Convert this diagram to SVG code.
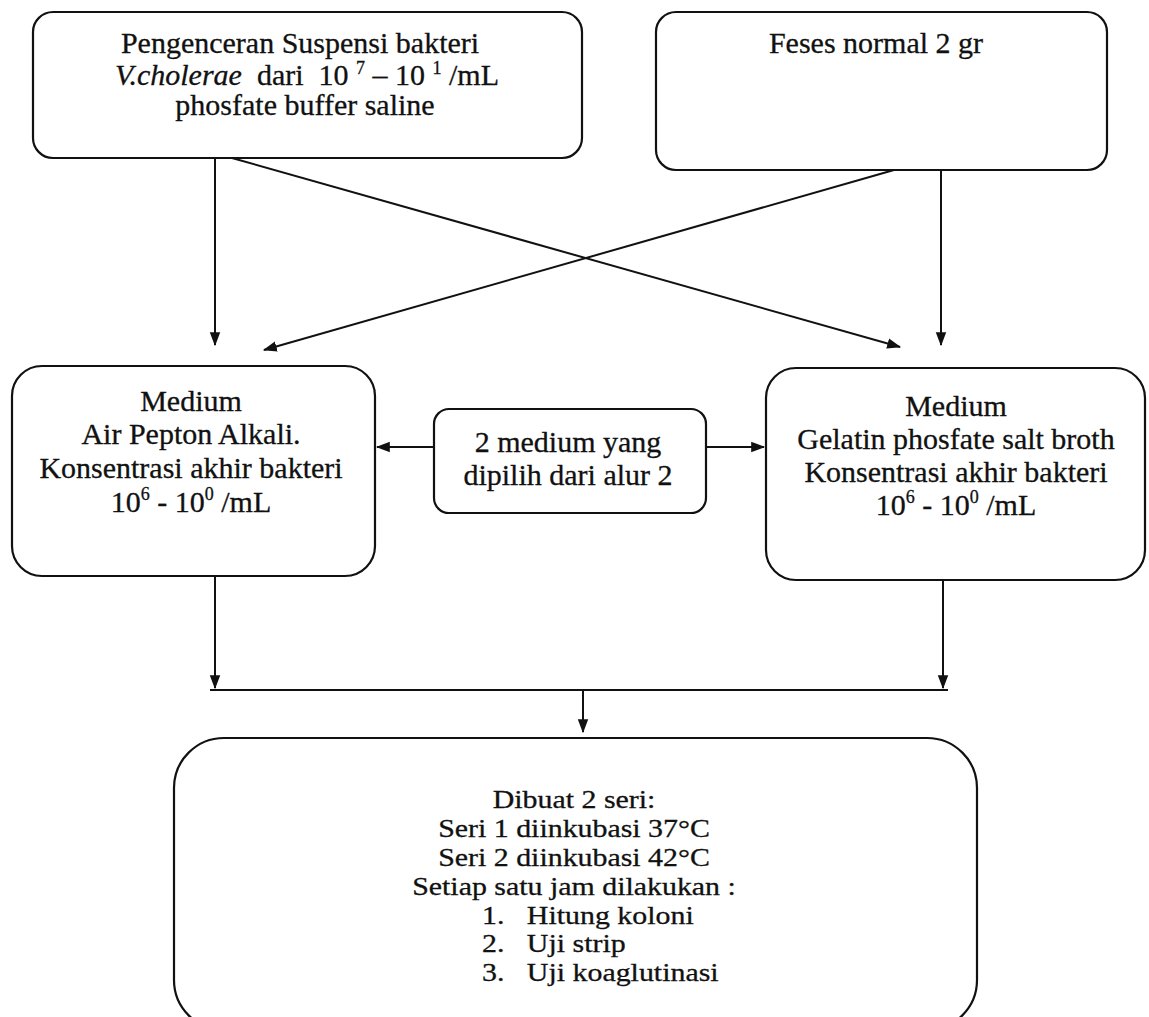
<svg xmlns="http://www.w3.org/2000/svg" width="1149" height="1017" viewBox="0 0 1149 1017">
<style>
.box{fill:none;stroke:#111;stroke-width:2.2}
.t{font-family:"Liberation Serif","Times New Roman",serif;font-size:30px;fill:#111;stroke:#111;stroke-width:0.3;text-anchor:middle}
.b{font-family:"Liberation Serif","Times New Roman",serif;font-size:26px;fill:#111;stroke:#111;stroke-width:0.3}
.m{text-anchor:middle}
.sup{font-size:18px}
.c{fill:none;stroke:#111;stroke-width:2}
</style>
<defs>
<marker id="ah" viewBox="0 0 12 12" refX="11" refY="6" markerWidth="14" markerHeight="14" markerUnits="userSpaceOnUse" orient="auto">
<path d="M0,1.5 L12,6 L0,10.5 Z" fill="#111"/>
</marker>
</defs>
<rect width="1149" height="1017" fill="#fff"/>
<g id="node-suspensi">
<rect class="box" x="33" y="12" width="549" height="146" rx="20"/>
<text class="t" x="300" y="53">Pengenceran Suspensi bakteri</text>
<text class="t" x="307" y="85" xml:space="preserve"><tspan font-style="italic">V.cholerae</tspan>  dari  10 <tspan class="sup" dy="-11">7</tspan><tspan dy="11"> – 10 </tspan><tspan class="sup" dy="-11">1</tspan><tspan dy="11"> /mL</tspan></text>
<text class="t" x="305" y="115">phosfate buffer saline</text>
</g>
<g id="node-feses">
<rect class="box" x="656" y="12" width="451" height="158" rx="20"/>
<text class="t" x="876" y="53">Feses normal 2 gr</text>
</g>
<g id="node-apa">
<rect class="box" x="12" y="366" width="363" height="210" rx="30"/>
<text class="t" x="191" y="411">Medium</text>
<text class="t" x="191" y="444">Air Pepton Alkali.</text>
<text class="t" x="191" y="478">Konsentrasi akhir bakteri</text>
<text class="t" x="191" y="512">10<tspan class="sup" dy="-12">6</tspan><tspan dy="12"> - 10</tspan><tspan class="sup" dy="-12">0</tspan><tspan dy="12"> /mL</tspan></text>
</g>
<g id="node-pilih">
<rect class="box" x="434" y="409" width="272" height="104" rx="15"/>
<text class="t" x="568" y="452">2 medium yang</text>
<text class="t" x="568" y="485">dipilih dari alur 2</text>
</g>
<g id="node-gpsb">
<rect class="box" x="766" y="368" width="379" height="212" rx="30"/>
<text class="t" x="956" y="416">Medium</text>
<text class="t" x="956" y="449">Gelatin phosfate salt broth</text>
<text class="t" x="956" y="482">Konsentrasi akhir bakteri</text>
<text class="t" x="956" y="515">10<tspan class="sup" dy="-12">6</tspan><tspan dy="12"> - 10</tspan><tspan class="sup" dy="-12">0</tspan><tspan dy="12"> /mL</tspan></text>
</g>
<g id="node-seri">
<rect class="box" x="174" y="738" width="803" height="292" rx="50"/>
<g transform="translate(574,0) scale(1.15,1)">
<text class="b m" x="0" y="808">Dibuat 2 seri:</text>
<text class="b m" x="0" y="837">Seri 1 diinkubasi 37°C</text>
<text class="b m" x="0" y="866">Seri 2 diinkubasi 42°C</text>
<text class="b m" x="0" y="895">Setiap satu jam dilakukan :</text>
<text class="b" x="-80" y="924">1.</text><text class="b" x="-41" y="924">Hitung koloni</text>
<text class="b" x="-80" y="952">2.</text><text class="b" x="-41" y="952">Uji strip</text>
<text class="b" x="-80" y="981">3.</text><text class="b" x="-41" y="981">Uji koaglutinasi</text>
</g>
</g>
<g id="connectors">
<line class="c" x1="215" y1="158" x2="215" y2="345" marker-end="url(#ah)"/>
<line class="c" x1="232" y1="158" x2="900" y2="347" marker-end="url(#ah)"/>
<line class="c" x1="894" y1="170" x2="264" y2="350" marker-end="url(#ah)"/>
<line class="c" x1="941" y1="170" x2="941" y2="345" marker-end="url(#ah)"/>
<line class="c" x1="434" y1="447" x2="377" y2="447" marker-end="url(#ah)"/>
<line class="c" x1="706" y1="447" x2="764" y2="447" marker-end="url(#ah)"/>
<line class="c" x1="215" y1="576" x2="215" y2="688" marker-end="url(#ah)"/>
<line class="c" x1="943" y1="580" x2="943" y2="688" marker-end="url(#ah)"/>
<line class="c" x1="210" y1="690" x2="948" y2="690"/>
<line class="c" x1="583" y1="690" x2="583" y2="732" marker-end="url(#ah)"/>
</g>
</svg>
